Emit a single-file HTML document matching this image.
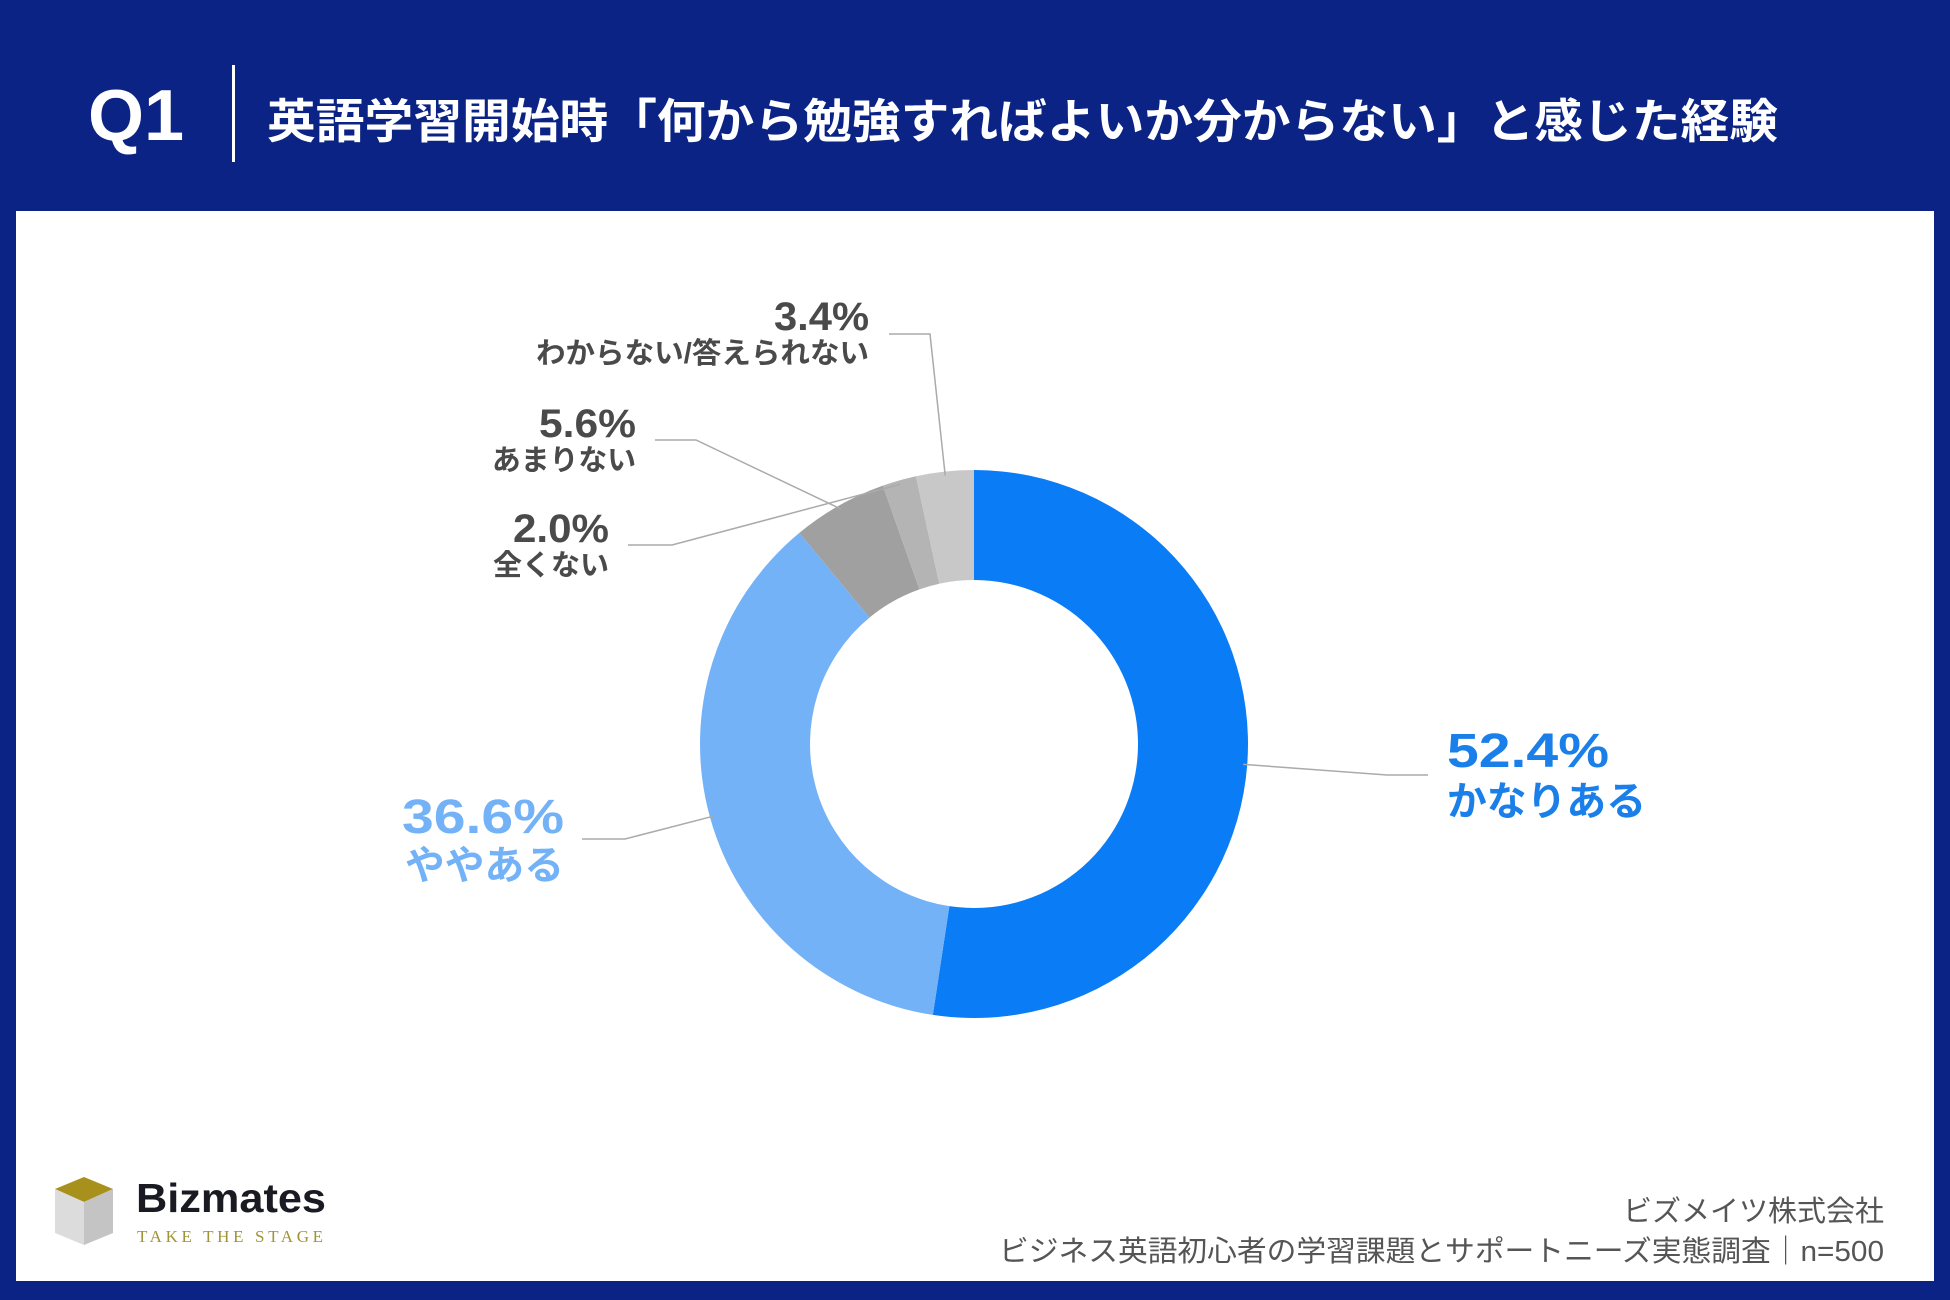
<!DOCTYPE html>
<html><head><meta charset="utf-8">
<style>
html,body{margin:0;padding:0;background:#0a2384;}
svg{display:block;}
text{font-family:"Liberation Sans","Noto Sans CJK JP",sans-serif;}
</style></head>
<body>
<svg id="chart" width="1950" height="1300" viewBox="0 0 1950 1300" xmlns="http://www.w3.org/2000/svg">
  <rect x="0" y="0" width="1950" height="1300" fill="#0a2384"/>
  <rect x="16" y="211" width="1918" height="1070" fill="#ffffff"/>
  <text x="88" y="140" font-size="72" font-weight="bold" fill="#fff">Q1</text>
  <rect x="232" y="65" width="3" height="97" fill="#fff"/>
  <text x="267" y="138" font-size="47" font-weight="bold" fill="#fff" textLength="1511" lengthAdjust="spacingAndGlyphs">英語学習開始時「何から勉強すればよいか分からない」と感じた経験</text>
  <g id="slices"></g>
  <g id="labels"></g>
  <g>
    <polygon points="55,1189 84,1177 113,1189 84,1202" fill="#a8901c"/>
    <polygon points="55,1189 84,1202 84,1245 55,1233" fill="#dcdcdc"/>
    <polygon points="84,1202 113,1189 113,1233 84,1245" fill="#c4c4c4"/>
    <text x="136" y="1212" font-size="41" font-weight="bold" fill="#1a1a22" textLength="190" lengthAdjust="spacingAndGlyphs">Bizmates</text>
    <text x="137" y="1242" font-size="17" fill="#a09434" textLength="186" style="font-family:'Liberation Serif',serif">TAKE THE STAGE</text>
  </g>
  <text x="1884" y="1221" font-size="29" fill="#555" text-anchor="end">ビズメイツ株式会社</text>
  <text x="1884" y="1261" font-size="29" fill="#555" text-anchor="end" textLength="885" lengthAdjust="spacingAndGlyphs">ビジネス英語初心者の学習課題とサポートニーズ実態調査｜n=500</text>
</svg>
<script>
const categories = ["かなりある","ややある","あまりない","全くない","わからない/答えられない"];
const values = [52.4, 36.6, 5.6, 2.0, 3.4];
const valueLabels = ["52.4%","36.6%","5.6%","2.0%","3.4%"];
const colors = ["#0a7cf5","#74b2f7","#a0a0a0","#b4b4b4","#c8c8c8"];

const NS="http://www.w3.org/2000/svg";
const cx=974, cy=744, R=274, r=164;
const total=values.reduce((a,b)=>a+b,0);
function pt(a,rad){return [cx+rad*Math.sin(a), cy-rad*Math.cos(a)];}
const g=document.getElementById('slices');
let acc=0;
const mids=[];
values.forEach((v,i)=>{
  const a0=acc/total*2*Math.PI; acc+=v; const a1=acc/total*2*Math.PI;
  mids.push((a0+a1)/2);
  const lg=(a1-a0)>Math.PI?1:0;
  const p0=pt(a0,R),p1=pt(a1,R),q1=pt(a1,r),q0=pt(a0,r);
  const p=document.createElementNS(NS,'path');
  p.setAttribute('d',`M${p0[0]},${p0[1]} A${R},${R} 0 ${lg} 1 ${p1[0]},${p1[1]} L${q1[0]},${q1[1]} A${r},${r} 0 ${lg} 0 ${q0[0]},${q0[1]} Z`);
  p.setAttribute('fill',colors[i]);
  
  
  g.appendChild(p);
});
const layout=[
  {x:1447,y:767,anchor:'start',fs:48,tl:162,sfs:40,stl:199,sy:815,color:'#1a7fe8',line:[[1428,775],[1387,775]]},
  {x:564,y:833,anchor:'end',fs:48,tl:162,sfs:40,stl:159,sy:879,color:'#74b2f7',line:[[582,839],[625,839]]},
  {x:636,y:437,anchor:'end',fs:40,tl:97,sfs:29,stl:144,sy:470,color:'#4a4a4a',line:[[655,440],[696,440]]},
  {x:609,y:542,anchor:'end',fs:40,tl:96,sfs:29,stl:116,sy:575,color:'#4a4a4a',line:[[628,545],[672,545]]},
  {x:869,y:330,anchor:'end',fs:40,tl:95,sfs:29,stl:333,sy:363,color:'#4a4a4a',line:[[889,334],[930,334]]}
];
const lg2=document.getElementById('labels');
layout.forEach((L,i)=>{
  const e=pt(mids[i],R-4);
  const pl=document.createElementNS(NS,'polyline');
  pl.setAttribute('points',`${L.line[0]} ${L.line[1]} ${e[0]},${e[1]}`);
  pl.setAttribute('fill','none');pl.setAttribute('stroke','#aaa');pl.setAttribute('stroke-width','1.5');
  
  
  lg2.appendChild(pl);
  const t=document.createElementNS(NS,'text');
  t.setAttribute('x',L.x);t.setAttribute('y',L.y);t.setAttribute('text-anchor',L.anchor);
  t.setAttribute('font-size',L.fs);t.setAttribute('font-weight','bold');t.setAttribute('fill',L.color);
  t.setAttribute('textLength',L.tl);t.setAttribute('lengthAdjust','spacingAndGlyphs');
  t.textContent=valueLabels[i];
  
  
  lg2.appendChild(t);
  const s=document.createElementNS(NS,'text');
  s.setAttribute('x',L.x);s.setAttribute('y',L.sy);s.setAttribute('text-anchor',L.anchor);
  s.setAttribute('font-size',L.sfs);s.setAttribute('font-weight','bold');s.setAttribute('fill',L.color);
  s.setAttribute('textLength',L.stl);s.setAttribute('lengthAdjust','spacingAndGlyphs');
  s.textContent=categories[i];
  
  
  lg2.appendChild(s);
});
</script>
</body></html>
